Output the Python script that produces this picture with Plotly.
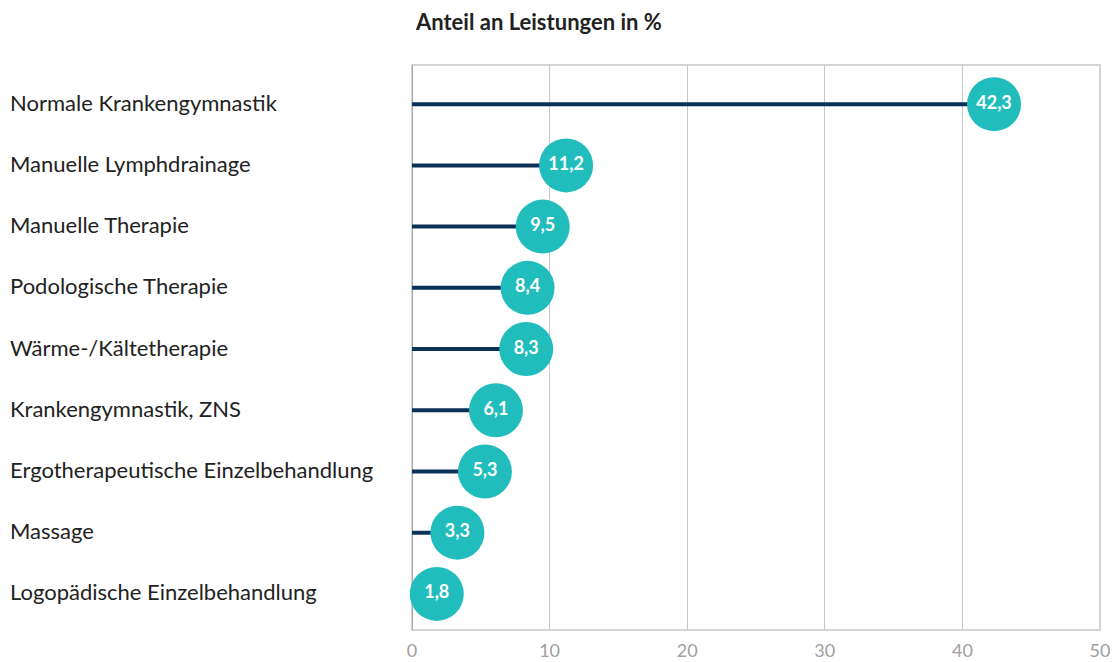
import plotly.graph_objects as go

# Leistungsarten und Anteile (in %)
categories = [
    "Normale Krankengymnastik",
    "Manuelle Lymphdrainage",
    "Manuelle Therapie",
    "Podologische Therapie",
    "Wärme-/Kältetherapie",
    "Krankengymnastik, ZNS",
    "Ergotherapeutische Einzelbehandlung",
    "Massage",
    "Logopädische Einzelbehandlung",
]
values = [42.3, 11.2, 9.5, 8.4, 8.3, 6.1, 5.3, 3.3, 1.8]
x_ticks = [0, 10, 20, 30, 40, 50]

NAVY = "#0c3157"
TEAL = "#21bdbd"
FONT = "Lato"

pos = list(range(len(categories)))

# Stiele von 0 bis zum Wert
line_x, line_y = [], []
for p, v in zip(pos, values):
    line_x += [0, v, None]
    line_y += [p, p, None]

fig = go.Figure()
fig.add_trace(go.Scatter(
    x=line_x, y=line_y, mode="lines",
    line=dict(color=NAVY, width=4),
    hoverinfo="skip", showlegend=False,
))
fig.add_trace(go.Scatter(
    x=values, y=pos, mode="markers+text",
    marker=dict(size=54, color=TEAL, line=dict(width=0)),
    text=[f"{v:.1f}".replace(".", ",") for v in values],
    textposition="middle center",
    textfont=dict(family=FONT, size=18, color="white", weight="bold"),
    cliponaxis=False, showlegend=False,
))

# Kategorienbeschriftungen linksbündig
for p, c in zip(pos, categories):
    fig.add_annotation(
        x=(8 - 412) / 688, xref="paper", y=p, yref="y", yshift=2,
        text=c, showarrow=False, xanchor="left", yanchor="middle",
        font=dict(family=FONT, size=22, color="#222222"),
    )

# Rahmen und Nulllinie
fig.add_shape(type="rect", xref="paper", yref="paper", x0=0, x1=1, y0=0, y1=1,
              line=dict(color="#d4d4d4", width=2), layer="below")
fig.add_shape(type="line", xref="x", yref="paper", x0=0, x1=0, y0=0, y1=1,
              line=dict(color="#a8a8a8", width=2), layer="below")

fig.update_layout(
    width=1115, height=662,
    margin=dict(l=412, r=15, t=65, b=32, autoexpand=False),
    paper_bgcolor="white", plot_bgcolor="white",
    title=dict(
        text="<b>Anteil an Leistungen in %</b>",
        x=(416 - 412) / 688, xref="paper", xanchor="left",
        y=0.967, yref="container", yanchor="middle",
        font=dict(family=FONT, size=22, color="#222222"),
    ),
    xaxis=dict(
        range=[0, 50], tickvals=x_ticks,
        ticktext=[str(t) for t in x_ticks],
        showgrid=True, gridcolor="#c8c8c8", gridwidth=1,
        zeroline=False, showline=False, automargin=False,
        tickfont=dict(family=FONT, size=18, color="#a0a0a0"),
        ticks="", ticklabelstandoff=8,
    ),
    yaxis=dict(
        range=[8.59, -0.64], showticklabels=False, showgrid=False,
        zeroline=False, showline=False, ticks="", automargin=False,
    ),
)

fig.write_html("out.html")
